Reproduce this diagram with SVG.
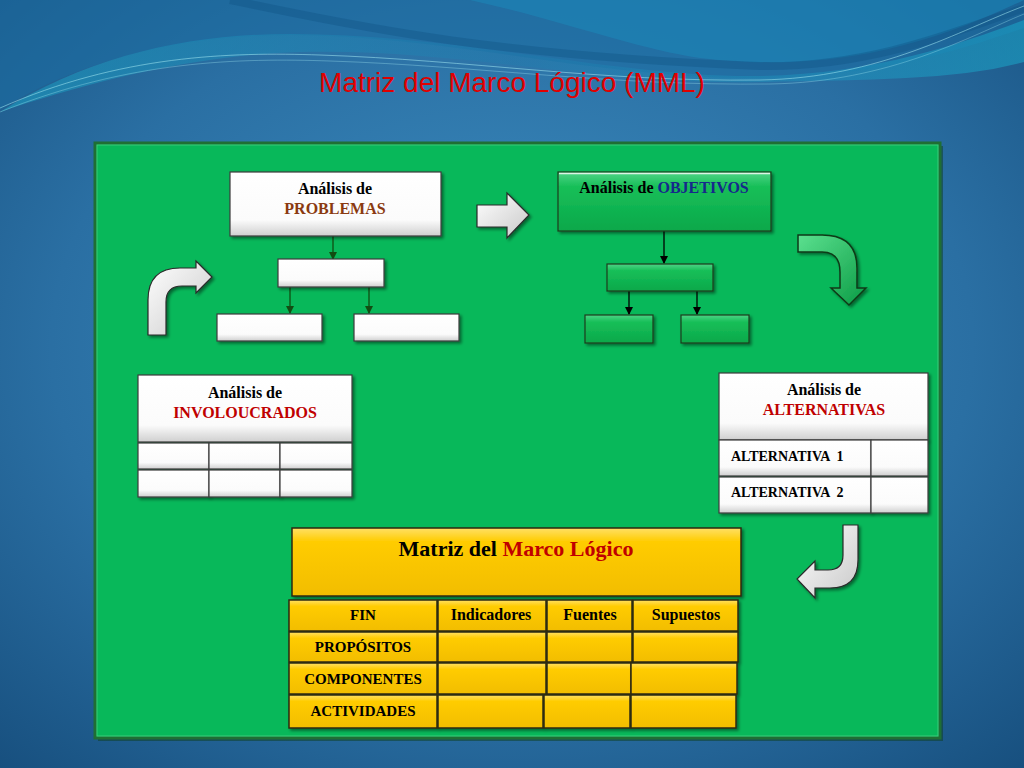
<svg xmlns="http://www.w3.org/2000/svg" width="1024" height="768" viewBox="0 0 1024 768">
<defs>
<radialGradient id="bg" cx="0.5" cy="0.45" r="0.75">
<stop offset="0" stop-color="#3d8fc2"/>
<stop offset="0.6" stop-color="#2a6fa3"/>
<stop offset="1" stop-color="#174f7e"/>
</radialGradient>
<linearGradient id="wave1" x1="0" y1="0" x2="1" y2="0">
<stop offset="0" stop-color="#1aa9c9" stop-opacity="0.9"/>
<stop offset="0.5" stop-color="#1d7fb0" stop-opacity="0.6"/>
<stop offset="1" stop-color="#1ab0d0" stop-opacity="0.9"/>
</linearGradient>
<linearGradient id="whiteG" x1="0" y1="0" x2="0" y2="1">
<stop offset="0" stop-color="#ffffff"/>
<stop offset="0.75" stop-color="#fbfbfb"/>
<stop offset="1" stop-color="#cfcfcf"/>
</linearGradient>
<linearGradient id="greenG" x1="0" y1="0" x2="0" y2="1">
<stop offset="0" stop-color="#4fd487"/>
<stop offset="0.25" stop-color="#17bf58"/>
<stop offset="1" stop-color="#0aa84a"/>
</linearGradient>
<linearGradient id="yellowG" x1="0" y1="0" x2="0" y2="1">
<stop offset="0" stop-color="#ffe066"/>
<stop offset="0.2" stop-color="#ffcc00"/>
<stop offset="1" stop-color="#f2bd00"/>
</linearGradient>
<linearGradient id="arrowW" x1="0" y1="0" x2="1" y2="1">
<stop offset="0" stop-color="#ffffff"/>
<stop offset="1" stop-color="#c9c9c9"/>
</linearGradient>
<linearGradient id="arrowG" x1="0" y1="0" x2="1" y2="1">
<stop offset="0" stop-color="#5be08f"/>
<stop offset="1" stop-color="#0b9c45"/>
</linearGradient>
<marker id="ahG" markerWidth="8" markerHeight="8" refX="7" refY="4" orient="auto" markerUnits="userSpaceOnUse">
<path d="M0,0 L8,4 L0,8 Z" fill="#124d12"/>
</marker>
<marker id="ahK" markerWidth="8" markerHeight="8" refX="7" refY="4" orient="auto" markerUnits="userSpaceOnUse">
<path d="M0,0 L8,4 L0,8 Z" fill="#000"/>
</marker>
<filter id="sh" x="-10%" y="-10%" width="125%" height="130%">
<feDropShadow dx="2" dy="2" stdDeviation="1.5" flood-color="#000" flood-opacity="0.45"/>
</filter>
</defs>
<style>
.t{font-family:"Liberation Serif","Times New Roman",serif;font-weight:bold;}
.wb{fill:url(#whiteG);stroke:#3b3b3b;stroke-width:1.2;filter:url(#sh);}
.gb{fill:url(#greenG);stroke:#1c3d1c;stroke-width:1.2;filter:url(#sh);}
.yb{fill:url(#yellowG);stroke:#2e2a10;stroke-width:1.5;filter:url(#sh);}
.hl{fill:none;stroke:#ffffff;stroke-width:1.5;opacity:0.8;}
.cg{stroke:#124d12;stroke-width:1.3;fill:none;marker-end:url(#ahG);}
.ck{stroke:#000;stroke-width:1.3;fill:none;marker-end:url(#ahK);}
.aw{fill:url(#arrowW);stroke:#2a2a2a;stroke-width:1.2;filter:url(#sh);}
.ag{fill:url(#arrowG);stroke:#0d3a17;stroke-width:1.5;filter:url(#sh);}
</style>

<!-- background -->
<rect x="0" y="0" width="1024" height="768" fill="url(#bg)"/>
<path d="M0,110 C80,60 180,35 290,35 C450,35 600,80 760,78 C880,76 960,50 1024,28 L1024,0 L0,0 Z" fill="#1c6ea3" opacity="0.55"/>
<path d="M0,112 C90,55 190,34 290,34 C460,34 620,78 760,76 C880,74 970,40 1024,20 L1024,62 C960,80 870,80 760,82 C600,86 460,48 300,52 C190,55 80,85 0,112 Z" fill="url(#wave1)" opacity="0.55"/>
<path d="M470,0 C560,20 640,50 700,58 C800,70 900,60 1024,0 Z" fill="#1a8fbf" opacity="0.45"/>
<path d="M230,0 C330,20 470,55 760,66 C870,68 960,30 1024,8" fill="none" stroke="#0f4f80" stroke-width="8" opacity="0.35"/>
<path d="M0,108 C120,55 230,52 320,55 C470,60 600,82 760,80 C880,78 960,30 1024,6" fill="none" stroke="#9fe6f0" stroke-width="0.8" opacity="0.7"/>
<path d="M0,112 C130,60 240,58 330,61 C480,66 610,86 770,84 C890,82 970,36 1024,14" fill="none" stroke="#9fe6f0" stroke-width="0.6" opacity="0.6"/>

<!-- title -->
<text x="512" y="92" text-anchor="middle" font-family="'Liberation Sans',Arial,sans-serif" font-size="28" fill="#e00000">Matriz del Marco Lógico (MML)</text>

<!-- green panel -->
<g id="panel">
<rect x="98" y="146" width="845" height="595" fill="#0e3d1e" opacity="0.5"/>
<rect x="95" y="143" width="845" height="595" fill="#08b85a" stroke="#1f6e34" stroke-width="3"/>
<rect x="97" y="145" width="841" height="591" fill="none" stroke="#5fd890" stroke-width="1" opacity="0.6"/>
</g>

<!-- connectors -->
<g id="connectors">
<line class="cg" x1="333" y1="236" x2="333" y2="259"/>
<line class="cg" x1="290" y1="287" x2="290" y2="313"/>
<line class="cg" x1="369" y1="287" x2="369" y2="313"/>
<line class="ck" x1="664" y1="231" x2="664" y2="263"/>
<line class="ck" x1="629" y1="291" x2="629" y2="314"/>
<line class="ck" x1="697" y1="291" x2="697" y2="314"/>
<path id="arrow-right" class="aw" d="M477,205 L507,205 L507,193 L529,215 L507,238 L507,227 L477,227 Z"/>
<path id="arrow-curve-up" class="aw" d="M148,335 L148,300 Q148,268 180,268 L196,268 L196,261 L212,277 L196,293 L196,286 L182,286 Q166,286 166,302 L166,335 Z"/>
<path id="arrow-curve-down" class="ag" d="M798,235 L822,235 Q857,235 857,268 L857,288 L866,288 L849,305 L831,288 L840,288 L840,272 Q840,252 822,252 L798,252 Z"/>
<path id="arrow-curve-left" class="aw" d="M843,525 L858,525 L858,560 Q858,588 830,588 L815,588 L815,598 L797,579 L815,561 L815,570 L828,570 Q843,570 843,555 Z"/>
</g>

<!-- problemas -->
<g id="problemas">
<rect class="wb" x="230" y="172" width="211" height="64"/>
<text class="t" x="335" y="194" text-anchor="middle" font-size="16" fill="#000">Análisis de</text>
<text class="t" x="335" y="214" text-anchor="middle" font-size="16" fill="#8a3a10">PROBLEMAS</text>
</g>
<g id="prob-box-1"><rect class="wb" x="278" y="259" width="106" height="28"/></g>
<g id="prob-box-2"><rect class="wb" x="217" y="314" width="105" height="27"/></g>
<g id="prob-box-3"><rect class="wb" x="354" y="314" width="105" height="27"/></g>

<!-- objetivos -->
<g id="objetivos">
<rect class="gb" x="558" y="172" width="213" height="59"/>
<line class="hl" x1="559" y1="173.5" x2="770" y2="173.5"/>
<text class="t" x="664" y="193" text-anchor="middle" font-size="16" fill="#000">Análisis de <tspan fill="#16288c">OBJETIVOS</tspan></text>
</g>
<g id="obj-box-1"><rect class="gb" x="607" y="264" width="106" height="27"/></g>
<g id="obj-box-2"><rect class="gb" x="585" y="315" width="68" height="28"/></g>
<g id="obj-box-3"><rect class="gb" x="681" y="315" width="68" height="28"/></g>

<!-- involucrados -->
<g id="involucrados">
<rect class="wb" x="138" y="375" width="214" height="67"/>
<text class="t" x="245" y="398" text-anchor="middle" font-size="16" fill="#000">Análisis de</text>
<text class="t" x="245" y="418" text-anchor="middle" font-size="16" fill="#c00000">INVOLOUCRADOS</text>
<rect class="wb" x="138" y="443" width="71" height="26"/>
<rect class="wb" x="209" y="443" width="71" height="26"/>
<rect class="wb" x="280" y="443" width="72" height="26"/>
<rect class="wb" x="138" y="470" width="71" height="27"/>
<rect class="wb" x="209" y="470" width="71" height="27"/>
<rect class="wb" x="280" y="470" width="72" height="27"/>
</g>

<!-- alternativas -->
<g id="alternativas">
<rect class="wb" x="719" y="373" width="209" height="67"/>
<text class="t" x="824" y="395" text-anchor="middle" font-size="16" fill="#000">Análisis de</text>
<text class="t" x="824" y="415" text-anchor="middle" font-size="16" fill="#c00000">ALTERNATIVAS</text>
<rect class="wb" x="719" y="440" width="152" height="36"/>
<rect class="wb" x="871" y="440" width="57" height="36"/>
<rect class="wb" x="719" y="477" width="152" height="36"/>
<rect class="wb" x="871" y="477" width="57" height="36"/>
<text class="t" x="731" y="461" font-size="14" fill="#000" xml:space="preserve">ALTERNATIVA  1</text>
<text class="t" x="731" y="497" font-size="14" fill="#000" xml:space="preserve">ALTERNATIVA  2</text>
</g>

<!-- matriz -->
<g id="matriz">
<rect class="yb" x="292" y="528" width="449" height="68"/>
<text class="t" x="516" y="556" text-anchor="middle" font-size="22" fill="#000">Matriz del <tspan fill="#c00000">Marco Lógico</tspan></text>
</g>
<g id="matriz-tabla">
<rect class="yb" x="289" y="600" width="148" height="31"/>
<rect class="yb" x="438" y="600" width="108" height="31"/>
<rect class="yb" x="547" y="600" width="85" height="31"/>
<rect class="yb" x="633" y="600" width="105" height="31"/>
<rect class="yb" x="289" y="632" width="148" height="30"/>
<rect class="yb" x="438" y="632" width="108" height="30"/>
<rect class="yb" x="547" y="632" width="85" height="30"/>
<rect class="yb" x="633" y="632" width="105" height="30"/>
<rect class="yb" x="289" y="663" width="148" height="31"/>
<rect class="yb" x="438" y="663" width="108" height="31"/>
<rect class="yb" x="547" y="663" width="84" height="31"/>
<rect class="yb" x="631" y="663" width="106" height="31"/>
<rect class="yb" x="289" y="695" width="148" height="33"/>
<rect class="yb" x="438" y="695" width="105" height="33"/>
<rect class="yb" x="544" y="695" width="86" height="33"/>
<rect class="yb" x="631" y="695" width="105" height="33"/>
<text class="t" x="363" y="620" text-anchor="middle" font-size="15" fill="#000">FIN</text>
<text class="t" x="491" y="620" text-anchor="middle" font-size="16" fill="#000">Indicadores</text>
<text class="t" x="590" y="620" text-anchor="middle" font-size="16" fill="#000">Fuentes</text>
<text class="t" x="686" y="620" text-anchor="middle" font-size="16" fill="#000">Supuestos</text>
<text class="t" x="363" y="652" text-anchor="middle" font-size="15" fill="#000">PROPÓSITOS</text>
<text class="t" x="363" y="684" text-anchor="middle" font-size="15" fill="#000">COMPONENTES</text>
<text class="t" x="363" y="716" text-anchor="middle" font-size="15" fill="#000">ACTIVIDADES</text>
</g>
</svg>
